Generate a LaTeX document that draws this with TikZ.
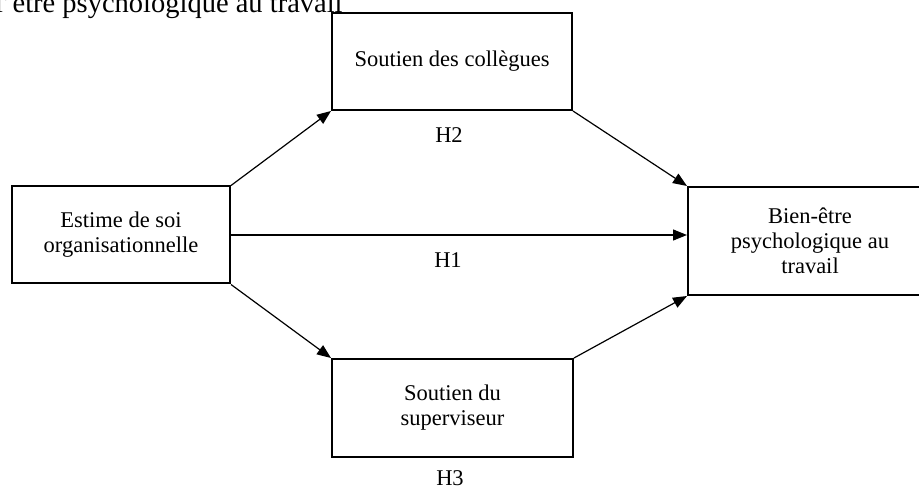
\documentclass[tikz,border=0pt]{standalone}
\usepackage{fontspec}
\setmainfont{Liberation Serif}
\usetikzlibrary{arrows.meta}
\begin{document}
\begin{tikzpicture}[x=1pt,y=-1pt,
  box/.style={draw=black,line width=2pt,rectangle,align=center,inner sep=0pt,
    font=\fontsize{22.5}{25}\selectfont},
  lbl/.style={font=\fontsize{22.5}{25}\selectfont,inner sep=0pt},
  conn/.style={draw=black,line width=1.2pt,-{Triangle[length=14pt,width=11pt]},shorten >=0pt}]
\useasboundingbox (0,0) rectangle (919,489);
\begin{scope}
\clip (0,0) rectangle (919,489);
\node[inner sep=0pt,font=\fontsize{28.5}{32}\selectfont,anchor=base west] (title) at (-5,13) {l’être psychologique au travail};
\node[box,minimum width=218pt,minimum height=97pt] (est) at (121,235) {Estime de soi\\organisationnelle};
\node[box,minimum width=240pt,minimum height=97pt] (col) at (452,61.5) {Soutien des collègues};
\node[box,minimum width=244pt,minimum height=108pt] (bien) at (810,241) {Bien-être\\psychologique au\\travail};
\node[box,minimum width=241pt,minimum height=98pt] (sup) at (452.5,408) {Soutien du\\superviseur};
\node[lbl] (h2) at (449,135) {H2};
\node[lbl] (h1) at (448,260) {H1};
\node[lbl] (h3) at (450,478) {H3};
\draw[conn] (est.north east) -- (col.south west);
\draw[conn] (est.east) -- (est.east -| bien.west);
\draw[conn] (est.south east) -- (sup.north west);
\draw[conn] (col.south east) -- (bien.north west);
\draw[conn] (sup.north east) -- (bien.south west);
\end{scope}
\end{tikzpicture}
\end{document}
